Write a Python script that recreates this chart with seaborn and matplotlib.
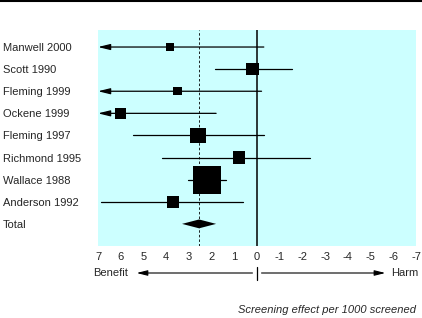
import numpy as np
import pandas as pd
import seaborn as sns
import matplotlib.pyplot as plt
from matplotlib.lines import Line2D
import matplotlib.transforms as mtransforms

# Meta-analysis: screening effect per 1000 screened

studies = ['Manwell 2000', 'Scott 1990', 'Fleming 1999', 'Ockene 1999',
           'Fleming 1997', 'Richmond 1995', 'Wallace 1988', 'Anderson 1992']
effect = [3.85, 0.2, 3.5, 6.0, 2.6, 0.8, 2.2, 3.7]
# benefit-side limit (None = beyond 7, drawn as arrow) and harm-side limit
ci_hi = [None, 1.85, None, None, 5.45, 4.2, 3.05, 6.85]
ci_lo = [-0.3, -1.55, -0.2, 1.8, -0.3, -2.35, 1.35, 0.6]
# square side (points), proportional to study weight
weight = [5.8, 9.1, 6.0, 7.7, 11.3, 9.1, 20.2, 8.4]

total_label = 'Total'
total_est = 2.55
total_ci = (3.3, 1.8)

ticks = list(range(7, -8, -1))

sns.set_style('white')
plt.rcParams['font.family'] = ['Liberation Sans', 'DejaVu Sans']
plt.rcParams['font.size'] = 8

df = pd.DataFrame({'study': studies, 'effect': effect,
                   'row': np.arange(len(studies)),
                   'area': np.array(weight) ** 2})

fig = plt.figure(figsize=(4.22, 3.18), dpi=100)
ax = fig.add_axes([98 / 422, 72 / 318, 318 / 422, 216 / 318])
ax.set_facecolor('#CCFFFF')

xmax = 7
for i in range(len(studies)):
    if ci_hi[i] is None:
        ax.annotate('', xy=(xmax, i), xytext=(ci_lo[i], i),
                    arrowprops=dict(arrowstyle='-|>,head_length=0.9,head_width=0.22',
                                    color='black', lw=0.9, shrinkA=0, shrinkB=0))
    else:
        ax.plot([ci_hi[i], ci_lo[i]], [i, i], color='black', lw=0.9)

sns.scatterplot(data=df, x='effect', y='row', size='area',
                sizes=(min(weight) ** 2, max(weight) ** 2), marker='s',
                color='black', linewidth=0, legend=False, ax=ax, zorder=3)

n = len(studies)
h = 0.2
ax.fill([total_ci[0], total_est, total_ci[1], total_est],
        [n, n - h, n, n + h], color='black', lw=0, zorder=3)

ax.axvline(0, color='black', lw=1.1)
ax.axvline(total_est, color='black', lw=0.6, ls=(0, (3, 2.5)))

ax.set_xlim(7, -7)
ax.set_ylim(n + 1.0, -0.77)
ax.set_xticks(ticks)
ax.set_xticklabels([str(t) for t in ticks])
ax.set_yticks(list(range(n + 1)))
ax.set_yticklabels(studies + [total_label])
for lab in ax.get_yticklabels():
    lab.set_horizontalalignment('left')
ax.tick_params(axis='y', length=0, pad=68.4)
ax.tick_params(axis='x', direction='in', length=3, width=1, color='white', pad=4)
ax.set_xlabel('')
ax.set_ylabel('')
for s in ax.spines.values():
    s.set_visible(False)

# benefit / harm arrows below axis
trans = mtransforms.blended_transform_factory(ax.transData, ax.transAxes)
yb = -0.125
ax.annotate('', xy=(5.3, yb), xycoords=trans, xytext=(0.2, yb), textcoords=trans,
            arrowprops=dict(arrowstyle='-|>,head_length=0.8,head_width=0.2',
                            color='black', lw=0.8, shrinkA=0, shrinkB=0))
ax.annotate('', xy=(-5.65, yb), xycoords=trans, xytext=(-0.2, yb), textcoords=trans,
            arrowprops=dict(arrowstyle='-|>,head_length=0.8,head_width=0.2',
                            color='black', lw=0.8, shrinkA=0, shrinkB=0))
ax.plot([0, 0], [-0.097, -0.157], transform=trans, color='black', lw=0.9, clip_on=False)
ax.text(7.22, yb, 'Benefit', transform=trans, ha='left', va='center')
ax.text(-7.1, yb, 'Harm', transform=trans, ha='right', va='center')

fig.text(416 / 422, 1 - 310 / 318, 'Screening effect per 1000 screened',
         ha='right', va='center', style='italic')

fig.add_artist(Line2D([0, 1], [0.996, 0.996], transform=fig.transFigure,
                      color='black', lw=1.5))

fig.savefig('out.png', dpi=100)
